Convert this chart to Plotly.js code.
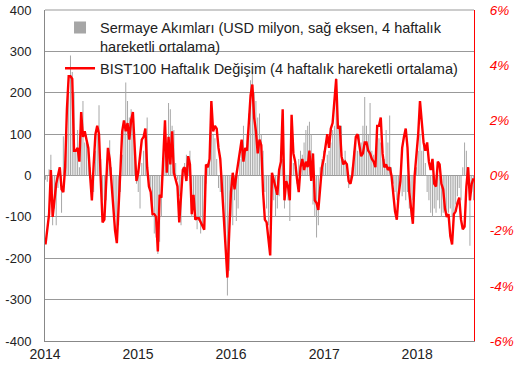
<!DOCTYPE html>
<html>
<head>
<meta charset="utf-8">
<script src="https://cdn.plot.ly/plotly-3.0.1.min.js"></script>
<style>html,body{margin:0;padding:0;background:#fff;}#chart{width:519px;height:372px;}</style>
</head>
<body>
<div id="chart"></div>
<script>
// Weekly data, first week ending 2014-01-03
const startDate = '2014-01-03';
const flowLabel = 'Sermaye Akımları (USD milyon, sağ eksen, 4 haftalık<br>hareketli ortalama)';
const bistLabel = 'BIST100 Haftalık Değişim (4 haftalık hareketli ortalama)';

// Capital flows, USD mn (4-week moving average)
const capitalFlows = [
 -10,-15,15,50,-120,-80,-120,-30,20,-90,
 95,35,100,200,290,250,200,60,110,20,
 130,180,80,100,75,20,-20,-40,60,100,
 170,40,-60,-100,-60,40,85,20,-60,-100,
 -145,-120,-40,50,130,225,180,140,160,150,
 60,-20,-40,-80,30,60,90,140,-30,-60,
 -100,-140,-150,-190,-160,-100,20,80,60,175,
 160,120,110,30,-10,-50,-120,20,30,50,
 30,60,-100,-60,-100,-130,-110,-140,-120,-100,
 -20,30,60,130,100,90,40,-30,-40,-30,
 -120,-200,-290,-230,-100,-120,-60,-110,-80,40,
 80,120,60,100,150,230,250,200,180,140,
 150,100,60,-40,-80,-120,-90,-30,-60,-100,
 -80,-50,60,40,-80,-20,-60,-110,60,30,
 20,-20,40,60,50,80,110,120,130,100,
 -70,-100,-150,-120,20,40,60,30,50,60,
 80,110,120,235,120,115,120,40,60,30,
 -30,-20,20,60,80,60,100,80,120,190,
 120,100,175,60,50,30,100,90,80,60,
 40,110,80,145,20,-20,-40,-60,-40,-20,
 -50,-40,-60,-40,-80,-100,-60,-20,20,60,
 100,60,80,30,-40,-60,-90,-100,-80,-90,
 -60,-80,-100,-90,-80,-100,-90,-80,-100,-90,
 -70,-50,-30,-60,20,80,60,20,-170,-40,
 -60
];

// BIST100 weekly change, % (4-week moving average)
const bistChange = [
 -2.5,-1.9,-1.4,0.2,-1.5,-0.9,-0.3,0.0,0.3,-0.5,
 -0.6,0.3,2.4,3.6,3.6,3.5,0.9,0.9,1.0,0.5,
 2.3,1.4,1.6,1.3,1.0,0.0,-0.9,0.4,1.5,1.8,
 1.5,-0.2,-1.7,-1.6,-0.5,1.0,0.6,-0.3,-1.3,-2.0,
 -2.45,-1.3,0.2,1.6,2.0,1.6,1.9,1.3,2.0,2.3,
 1.2,-0.2,0.1,0.7,1.3,1.4,1.7,0.3,-0.4,-0.6,
 -1.4,-1.4,-1.5,-2.75,-0.7,-0.8,0.9,2.0,0.1,1.4,
 0.4,1.6,0.1,-0.2,-0.4,-1.7,-0.7,0.2,0.3,-0.2,
 0.7,0.4,-1.4,-0.7,-1.6,-1.55,-1.55,-1.7,-1.8,-1.97,
 0.4,0.3,0.6,2.7,1.6,1.8,1.7,1.0,0.6,-0.4,
 -1.5,-2.7,-3.7,-2.1,-0.6,0.1,-0.5,0.0,0.5,0.8,
 1.3,0.5,1.0,0.9,2.0,2.9,3.3,2.1,1.6,0.8,
 1.3,1.1,-0.6,-1.6,-1.7,-2.35,-2.9,0.1,-0.2,-0.5,
 -0.7,0.2,0.5,2.4,-0.9,-0.2,-0.4,-0.9,2.2,0.8,
 0.5,-0.1,-0.6,0.3,0.6,0.2,0.5,0.3,0.9,-0.2,
 0.8,-0.9,-1.0,-1.25,-0.4,0.3,0.6,1.1,1.5,1.0,
 1.7,1.9,2.6,3.5,1.7,1.8,0.7,0.4,0.5,0.4,
 -0.2,-0.3,0.0,0.6,1.4,1.5,1.0,0.7,0.8,1.2,
 1.2,0.9,0.8,0.6,0.5,0.3,1.8,1.8,2.1,0.8,
 0.3,0.4,0.2,0.3,0.0,-0.6,-1.3,-1.6,-0.7,-0.2,
 1.0,1.4,1.7,1.0,-0.6,-1.2,-1.75,0.0,0.8,1.5,
 2.7,1.9,1.2,0.9,1.2,0.5,0.2,0.6,-0.3,-0.4,
 0.5,0.4,-0.3,-0.5,-1.2,-1.5,-1.4,-2.2,-2.5,-1.4,
 -1.3,-1.0,-0.8,-1.6,-1.95,-1.85,-0.4,0.3,-0.9,-0.3,
 -0.1
];

const leftTicks = [-400,-300,-200,-100,0,100,200,300,400];
const leftTickText = ['-400','-300','-200','-100','0','100','200','300','400'];
const rightTicks = [-6,-4,-2,0,2,4,6];
const rightTickText = ['-6%','-4%','-2%','0%','2%','4%','6%'];
const yearTicks = ['2014-01-01','2015-01-01','2016-01-01','2017-01-01','2018-01-01'];
const yearLabels = ['2014','2015','2016','2017','2018'];

function weekDates(n){
  const out = [];
  const d0 = new Date(startDate + 'T00:00:00Z');
  for (let i = 0; i < n; i++){
    const d = new Date(d0.getTime() + i*7*86400000);
    out.push(d.toISOString().slice(0,10));
  }
  return out;
}
const dates = weekDates(capitalFlows.length);

const font = 'Liberation Sans, Arial, sans-serif';

const traces = [
  {
    type: 'bar', x: dates, y: capitalFlows, name: flowLabel,
    marker: {color: '#a6a6a6', line: {width: 0}},
    yaxis: 'y'
  },
  {
    type: 'scatter', mode: 'lines', x: dates.slice(0, bistChange.length), y: bistChange, name: bistLabel,
    line: {color: '#ff0000', width: 2.4},
    yaxis: 'y2'
  }
];

const layout = {
  width: 519, height: 372,
  margin: {l: 45, r: 45, t: 10, b: 31},
  paper_bgcolor: '#fff', plot_bgcolor: '#fff',
  font: {family: font, size: 12, color: '#222'},
  bargap: 0.45,
  showlegend: true,
  legend: {
    x: 0.035, y: 0.995, xanchor: 'left', yanchor: 'top',
    bgcolor: 'rgba(0,0,0,0)', font: {family: font, size: 14.5, color: '#222'},
    valign: 'top'
  },
  xaxis: {
    type: 'date', range: ['2014-01-01', '2018-08-12'],
    tickvals: yearTicks, ticktext: yearLabels,
    showgrid: false, showline: true, linecolor: '#888', linewidth: 1,
    ticks: '', tickfont: {family: font, size: 14, color: '#222'},
    zeroline: false
  },
  yaxis: {
    range: [-400, 400], tickvals: leftTicks, ticktext: leftTickText,
    showgrid: true, gridcolor: '#999', gridwidth: 1,
    showline: true, linecolor: '#888', linewidth: 1,
    zeroline: false, ticks: '', ticklabelstandoff: 10,
    tickfont: {family: font, size: 13, color: '#222'}
  },
  yaxis2: {
    range: [-6, 6], tickvals: rightTicks, ticktext: rightTickText,
    overlaying: 'y', side: 'right', showgrid: false, zeroline: false,
    showline: true, linecolor: '#ff0000', linewidth: 1, ticks: '',
    ticklabelstandoff: 12,
    tickfont: {family: font, size: 13.5, color: '#ff0000', style: 'italic'}
  },
  shapes: [
    {type: 'line', xref: 'paper', yref: 'paper', x0: 0, x1: 1, y0: 1, y1: 1, line: {color: '#999', width: 1}}
  ]
};

Plotly.newPlot('chart', traces, layout, {displayModeBar: false, staticPlot: true});
</script>
</body>
</html>
